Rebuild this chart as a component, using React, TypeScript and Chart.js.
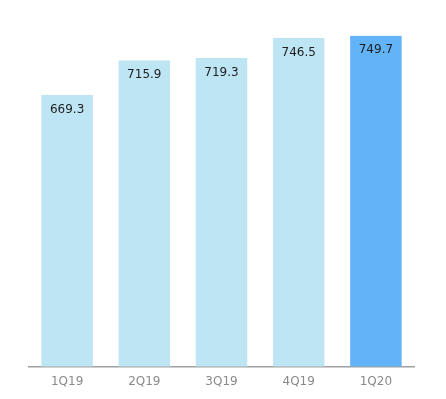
import React, { useEffect, useRef } from "react";
import { Chart, registerables } from "chart.js";

Chart.register(...registerables);

const categories = ["1Q19", "2Q19", "3Q19", "4Q19", "1Q20"];
const values = [669.3, 715.9, 719.3, 746.5, 749.7];
const barColors = ["#BEE5F4", "#BEE5F4", "#BEE5F4", "#BEE5F4", "#62B3F8"];

const FONT = "'DejaVu Sans', Verdana, sans-serif";

const valueLabels = {
  id: "valueLabels",
  afterDatasetsDraw(chart: any) {
    const ctx = chart.ctx;
    const meta = chart.getDatasetMeta(0);
    ctx.save();
    ctx.font = `12px ${FONT}`;
    ctx.fillStyle = "#1e1e1e";
    ctx.textAlign = "center";
    ctx.textBaseline = "middle";
    meta.data.forEach((el: any, i: number) => {
      ctx.fillText(values[i].toFixed(1), el.x, el.y + 14.5);
    });
    ctx.restore();
  },
};

export default function App() {
  const ref = useRef<HTMLCanvasElement | null>(null);
  useEffect(() => {
    if (!ref.current) return;
    const chart = new Chart(ref.current, {
      type: "bar",
      data: {
        labels: categories,
        datasets: [
          {
            data: values,
            backgroundColor: barColors,
            borderWidth: 0,
            barPercentage: 0.667,
            categoryPercentage: 1,
          },
        ],
      },
      options: {
        animation: false,
        responsive: false,
        maintainAspectRatio: false,
        layout: { padding: { left: 28.5, right: 31.5, top: 35.5, bottom: 1.4 } },
        plugins: { legend: { display: false }, tooltip: { enabled: false } },
        scales: {
          y: { display: false, min: 300, max: 750 },
          x: {
            grid: { display: false, drawTicks: false },
            border: { display: true, color: "#a0a0a0", width: 1.5 },
            ticks: { color: "#8a8a8a", padding: 8.3, font: { family: FONT, size: 12 } },
          },
        },
      },
      plugins: [valueLabels],
    });
    return () => chart.destroy();
  }, []);
  return (
    <div style={{ position: "fixed", left: 0, top: 0, width: 446, height: 399, background: "#fff" }}>
      <canvas ref={ref} width={446} height={399} style={{ display: "block" }} />
    </div>
  );
}
